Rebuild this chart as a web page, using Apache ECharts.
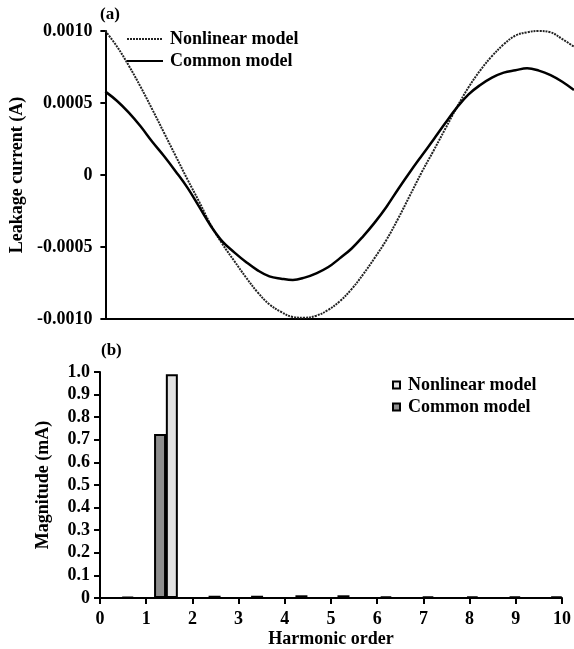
<!DOCTYPE html>
<html>
<head>
<meta charset="utf-8">
<script src="https://cdn.jsdelivr.net/npm/echarts@6/dist/echarts.min.js"></script>
<style>
html,body{margin:0;padding:0;background:#fff;}
#chart{width:574px;height:649px;}
</style>
</head>
<body>
<div id="chart"></div>
<script>
// ---- Data (a): leakage current waveforms, time in ms ----
var timeMs = [0,0.5,1,1.5,2,2.5,3,3.5,4,4.5,5,5.5,6,6.5,7,7.5,8,8.5,9,9.5,10,10.5,11,11.5,12,12.5,13,13.5,14,14.5,15,15.5,16,16.5,17,17.5,18,18.5,19,19.5,20];
var nonlinearA = [0.001000,0.000891,0.000759,0.000613,0.000456,0.000294,0.000132,-0.000030,-0.000185,-0.000347,-0.000481,-0.000597,-0.000711,-0.000815,-0.000898,-0.000951,-0.000986,-0.000991,-0.000977,-0.000938,-0.000877,-0.000794,-0.000690,-0.000574,-0.000449,-0.000301,-0.000141,0.000019,0.000167,0.000319,0.000470,0.000609,0.000727,0.000826,0.000907,0.000968,0.000991,0.001000,0.000991,0.000944,0.000891];
var commonA = [0.000579,0.000514,0.000433,0.000338,0.000231,0.000132,0.000025,-0.000088,-0.000220,-0.000354,-0.000463,-0.000537,-0.000604,-0.000662,-0.000704,-0.000720,-0.000729,-0.000713,-0.000683,-0.000641,-0.000579,-0.000512,-0.000426,-0.000329,-0.000220,-0.000097,0.000021,0.000134,0.000245,0.000359,0.000468,0.000560,0.000625,0.000676,0.000711,0.000727,0.000741,0.000725,0.000694,0.000648,0.000590];

// ---- Data (b): harmonic magnitudes (mA) ----
var commonHarmX = [0.6, 1.3, 2.48, 3.4, 4.36, 5.27, 6.19, 7.1, 8.06, 8.98, 9.88];
var commonHarmY = [0.004, 0.726, 0.01, 0.01, 0.012, 0.012, 0.006, 0.006, 0.006, 0.006, 0.006];
var nonlinearHarmX = [1.555];
var nonlinearHarmY = [0.99];

var legendNames = ['Nonlinear model', 'Common model'];

var FONT = 'Liberation Serif';
var txt = {fontFamily: FONT, fontSize: 18, fontWeight: 'bold', color: '#000'};

function zip(xs, ys){ return xs.map(function(x,i){ return [x, ys[i]]; }); }

var chart = echarts.init(document.getElementById('chart'), null, {renderer:'canvas'});
chart.setOption({
  animation: false,
  backgroundColor: '#fff',
  textStyle: {fontFamily: FONT},
  grid: [
    {left: 100, right: 0, top: 31, height: 288},
    {left: 100, right: 11, top: 372, bottom: 51}
  ],
  legend: [
    {
      data: legendNames, orient: 'vertical', left: 121, top: 25,
      itemWidth: 36, itemHeight: 14, itemGap: 4,
      itemStyle: {opacity: 0},
      textStyle: Object.assign({}, txt, {lineHeight: 18, padding: [0,0,0,2]}),
      selectedMode: false
    },
    {
      data: legendNames.map(function(n){ return n + ' '; }), orient: 'vertical', left: 387, top: 371,
      icon: 'rect', itemWidth: 7, itemHeight: 7, itemGap: 4,
      textStyle: Object.assign({}, txt, {lineHeight: 18, padding: [0,0,0,3]}),
      selectedMode: false
    }
  ],
  xAxis: [
    {
      type: 'value', gridIndex: 0, min: 0, max: 20,
      axisLine: {show: true, onZero: false, lineStyle: {color: '#000', width: 2}},
      axisTick: {show: false}, axisLabel: {show: false}, splitLine: {show: false}
    },
    {
      type: 'value', gridIndex: 1, min: 0, max: 10, interval: 1,
      name: 'Harmonic order', nameLocation: 'middle', nameGap: 32,
      nameTextStyle: txt,
      axisLine: {show: true, onZero: false, lineStyle: {color: '#000', width: 2}},
      axisTick: {show: true, length: 6, lineStyle: {color: '#000', width: 2}},
      axisLabel: Object.assign({}, txt, {margin: 12}),
      splitLine: {show: false}
    }
  ],
  yAxis: [
    {
      type: 'value', gridIndex: 0, min: -0.001, max: 0.001, interval: 0.0005,
      name: 'Leakage current (A)', nameLocation: 'middle', nameGap: 70,
      nameTextStyle: txt,
      axisLine: {show: true, lineStyle: {color: '#000', width: 2}},
      axisTick: {show: true, length: 5, lineStyle: {color: '#000', width: 2}},
      axisLabel: Object.assign({}, txt, {margin: 13, formatter: function(v){
        if (Math.abs(v) < 1e-12) return '0';
        return v.toFixed(4);
      }}),
      splitLine: {show: false}
    },
    {
      type: 'value', gridIndex: 1, min: 0, max: 1, interval: 0.1,
      name: 'Magnitude (mA)', nameLocation: 'middle', nameGap: 48,
      nameTextStyle: txt,
      axisLine: {show: true, lineStyle: {color: '#000', width: 2}},
      axisTick: {show: true, length: 6, lineStyle: {color: '#000', width: 2}},
      axisLabel: Object.assign({}, txt, {margin: 10, formatter: function(v){
        if (Math.abs(v) < 1e-9) return '0';
        return v.toFixed(1);
      }}),
      splitLine: {show: false}
    }
  ],
  graphic: [
    {type: 'text', left: 100, top: 6, style: {text: '(a)', fill: '#000', font: 'bold 17px "Liberation Serif"'}},
    {type: 'text', left: 101, top: 342, style: {text: '(b)', fill: '#000', font: 'bold 17px "Liberation Serif"'}}
  ],
  series: [
    {
      name: 'Nonlinear model', type: 'line', xAxisIndex: 0, yAxisIndex: 0,
      data: zip(timeMs, nonlinearA), smooth: 0.4, symbol: 'none',
      itemStyle: {color: '#222'},
      lineStyle: {color: '#222', width: 2, type: [2, 1]}
    },
    {
      name: 'Common model', type: 'line', xAxisIndex: 0, yAxisIndex: 0,
      data: zip(timeMs, commonA), smooth: 0.4, symbol: 'none',
      itemStyle: {color: '#000'},
      lineStyle: {color: '#000', width: 2.5}
    },
    {
      name: 'Nonlinear model ', type: 'bar', xAxisIndex: 1, yAxisIndex: 1,
      data: zip(nonlinearHarmX, nonlinearHarmY), barWidth: 12, barGap: '-100%',
      itemStyle: {color: '#e2e2e2', borderColor: '#000', borderWidth: 2}
    },
    {
      name: 'Common model ', type: 'bar', xAxisIndex: 1, yAxisIndex: 1,
      data: zip(commonHarmX, commonHarmY), barWidth: 12, barGap: '-100%',
      itemStyle: {color: '#8e8e8e', borderColor: '#000', borderWidth: 2}
    }
  ]
});
</script>
</body>
</html>
